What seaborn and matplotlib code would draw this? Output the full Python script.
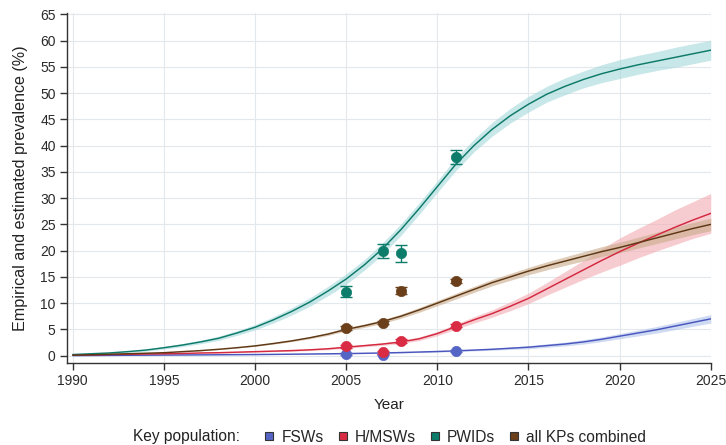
"""Prevalence of key populations: model fits with empirical points."""

import matplotlib
matplotlib.use("Agg")
import matplotlib.pyplot as plt
from matplotlib.lines import Line2D
import numpy as np
import pandas as pd
import seaborn as sns

# model years
years = list(range(1990, 2026))

# median model curves (%), one value per year
fsw_mid = [0.0, 0.02, 0.04, 0.06, 0.08, 0.1, 0.12, 0.14, 0.16, 0.18,
           0.2, 0.23, 0.26, 0.3, 0.34, 0.38, 0.44, 0.5, 0.58, 0.68,
           0.78, 0.9, 1.05, 1.2, 1.4, 1.6, 1.9, 2.2, 2.6, 3.1,
           3.7, 4.3, 4.9, 5.6, 6.3, 7.0]
msw_mid = [0.1, 0.15, 0.2, 0.25, 0.3, 0.35, 0.4, 0.5, 0.55, 0.65,
           0.75, 0.85, 0.95, 1.1, 1.3, 1.6, 1.9, 2.2, 2.6, 3.2,
           4.2, 5.5, 6.8, 8.0, 9.4, 10.9, 12.7, 14.5, 16.3, 18.1,
           19.8, 21.4, 22.9, 24.4, 25.8, 27.1]
pwid_mid = [0.2, 0.35, 0.5, 0.75, 1.05, 1.5, 2.0, 2.6, 3.3, 4.3,
            5.4, 6.8, 8.4, 10.2, 12.3, 14.6, 17.3, 20.4, 24.0, 28.0,
            32.2, 36.4, 40.0, 43.1, 45.7, 47.9, 49.8, 51.3, 52.6, 53.7,
            54.6, 55.4, 56.1, 56.8, 57.5, 58.2]
all_mid = [0.1, 0.15, 0.25, 0.35, 0.45, 0.55, 0.75, 0.95, 1.2, 1.5,
           1.85, 2.3, 2.8, 3.4, 4.1, 5.0, 5.7, 6.5, 7.5, 8.7,
           10.0, 11.3, 12.6, 13.9, 15.0, 16.1, 17.1, 18.0, 18.9, 19.8,
           20.6, 21.5, 22.4, 23.3, 24.2, 25.0]

# half-width of the uncertainty band (%)
fsw_hw = [0.02] * 10 + [0.03, 0.03, 0.04, 0.04, 0.05, 0.05, 0.06, 0.07, 0.08, 0.1,
                        0.12, 0.14, 0.16, 0.19, 0.22, 0.3, 0.33, 0.37, 0.41, 0.45,
                        0.5, 0.56, 0.62, 0.68, 0.74, 0.8]
msw_hw = [0.05, 0.05, 0.05, 0.05, 0.05, 0.05, 0.05, 0.08, 0.08, 0.1,
          0.1, 0.1, 0.12, 0.15, 0.18, 0.2, 0.22, 0.25, 0.3, 0.35,
          0.4, 0.5, 0.6, 0.7, 0.85, 1.0, 1.2, 1.5, 1.8, 2.2,
          2.6, 2.8, 3.0, 3.3, 3.5, 3.8]
pwid_hw = [0.1, 0.1, 0.1, 0.15, 0.2, 0.25, 0.3, 0.35, 0.4, 0.45,
           0.5, 0.6, 0.7, 0.8, 0.9, 1.0, 1.0, 1.1, 1.1, 1.1,
           1.1, 1.2, 1.2, 1.3, 1.4, 1.5, 1.5, 1.6, 1.6, 1.7,
           1.8, 1.8, 1.8, 1.9, 1.9, 1.9]
all_hw = [0.05] * 10 + [0.1, 0.12, 0.15, 0.2, 0.25, 0.3, 0.33, 0.36, 0.4, 0.45,
                        0.5, 0.54, 0.58, 0.62, 0.66, 0.7, 0.76, 0.82, 0.88, 0.94,
                        1.0, 1.04, 1.08, 1.12, 1.16, 1.2]

# empirical data points with their error bars
fsw_obs_years = [2005, 2007, 2011]
fsw_obs = [0.3, 0.2, 0.9]
fsw_err = [0.15, 0.15, 0.2]
msw_obs_years = [2005, 2007, 2008, 2011]
msw_obs = [1.8, 0.6, 2.8, 5.7]
msw_err = [0.3, 0.25, 0.4, 0.3]
pwid_obs_years = [2005, 2007, 2008, 2011]
pwid_obs = [12.2, 19.9, 19.5, 37.8]
pwid_err = [1.1, 1.3, 1.6, 1.3]
all_obs_years = [2005, 2007, 2008, 2011]
all_obs = [5.3, 6.3, 12.4, 14.2]
all_err = [0.35, 0.3, 0.6, 0.4]

groups = ["FSWs", "H/MSWs", "PWIDs", "all KPs combined"]
line_colors = ["#4a56bd", "#d3283f", "#0d7a69", "#5e3815"]
dot_colors = ["#5565c6", "#d92c44", "#0e7c6b", "#6a3f1a"]
band_colors = ["#afc2ec", "#f3abb3", "#a3d7da", "#c9aa8a"]

curves = [
    (fsw_mid, fsw_hw, fsw_obs_years, fsw_obs, fsw_err),
    (msw_mid, msw_hw, msw_obs_years, msw_obs, msw_err),
    (pwid_mid, pwid_hw, pwid_obs_years, pwid_obs, pwid_err),
    (all_mid, all_hw, all_obs_years, all_obs, all_err),
]

sns.set_theme(style="whitegrid")
plt.rcParams["font.family"] = ["Liberation Sans", "DejaVu Sans"]

fig = plt.figure(figsize=(7.26, 4.45), dpi=100)
ax = fig.add_axes([0.092, 0.185, 0.887, 0.786])

for i, (mid, hw, oy, ov, oe) in enumerate(curves):
    mid = np.array(mid)
    hw = np.array(hw)
    ax.fill_between(years, mid - hw, mid + hw, color=band_colors[i],
                    alpha=0.6, linewidth=0, zorder=2)
    sns.lineplot(x=years, y=mid, color=line_colors[i], linewidth=1.05,
                 ax=ax, zorder=3)

for i, (mid, hw, oy, ov, oe) in enumerate(curves):
    ax.errorbar(oy, ov, yerr=oe, fmt="none", ecolor=dot_colors[i],
                elinewidth=1.0, capsize=4, capthick=1.0, zorder=4)
    pts = pd.DataFrame({"year": oy, "value": ov})
    sns.scatterplot(data=pts, x="year", y="value", color=dot_colors[i],
                    s=55, edgecolor=dot_colors[i], linewidth=0.5,
                    ax=ax, zorder=5)

ax.set_xlim(1989.67, 2025.0)
ax.set_ylim(-1.35, 65.3)
ax.set_xticks(range(1990, 2026, 5))
ax.set_yticks(range(0, 66, 5))
ax.grid(True, color="#e3e8ec", linewidth=0.8)
ax.set_facecolor("white")
for side in ["top", "right"]:
    ax.spines[side].set_visible(False)
for side in ["left", "bottom"]:
    ax.spines[side].set_color("#333333")
    ax.spines[side].set_linewidth(1.0)
ax.tick_params(axis="both", direction="out", length=5, width=1.0,
               color="#333333", labelsize=10, labelcolor="#2a2a2a",
               bottom=True, left=True, pad=3)
ax.set_xlabel("Year", fontsize=11, color="#222222", labelpad=7)
ax.set_ylabel("Empirical and estimated prevalence (%)", fontsize=11.6,
              color="#222222", labelpad=9)

# legend row at the bottom
leg_y = 1 - 437 / 445
fig.text(133 / 726, leg_y, "Key population:", fontsize=11.2,
         color="#222222", ha="left", va="center")
handles = [
    Line2D([0], [0], marker="s", linestyle="none", markersize=6.4,
           markerfacecolor=dot_colors[i], markeredgecolor="#333333",
           markeredgewidth=0.8)
    for i in range(len(groups))
]
fig.legend(handles, groups, loc="center left",
           bbox_to_anchor=(265 / 726, leg_y), ncol=4, frameon=False,
           fontsize=11.2, handlelength=0.55, handletextpad=0.5,
           columnspacing=0.95, borderpad=0, borderaxespad=0)

fig.savefig("out.png", dpi=100)
plt.close(fig)
